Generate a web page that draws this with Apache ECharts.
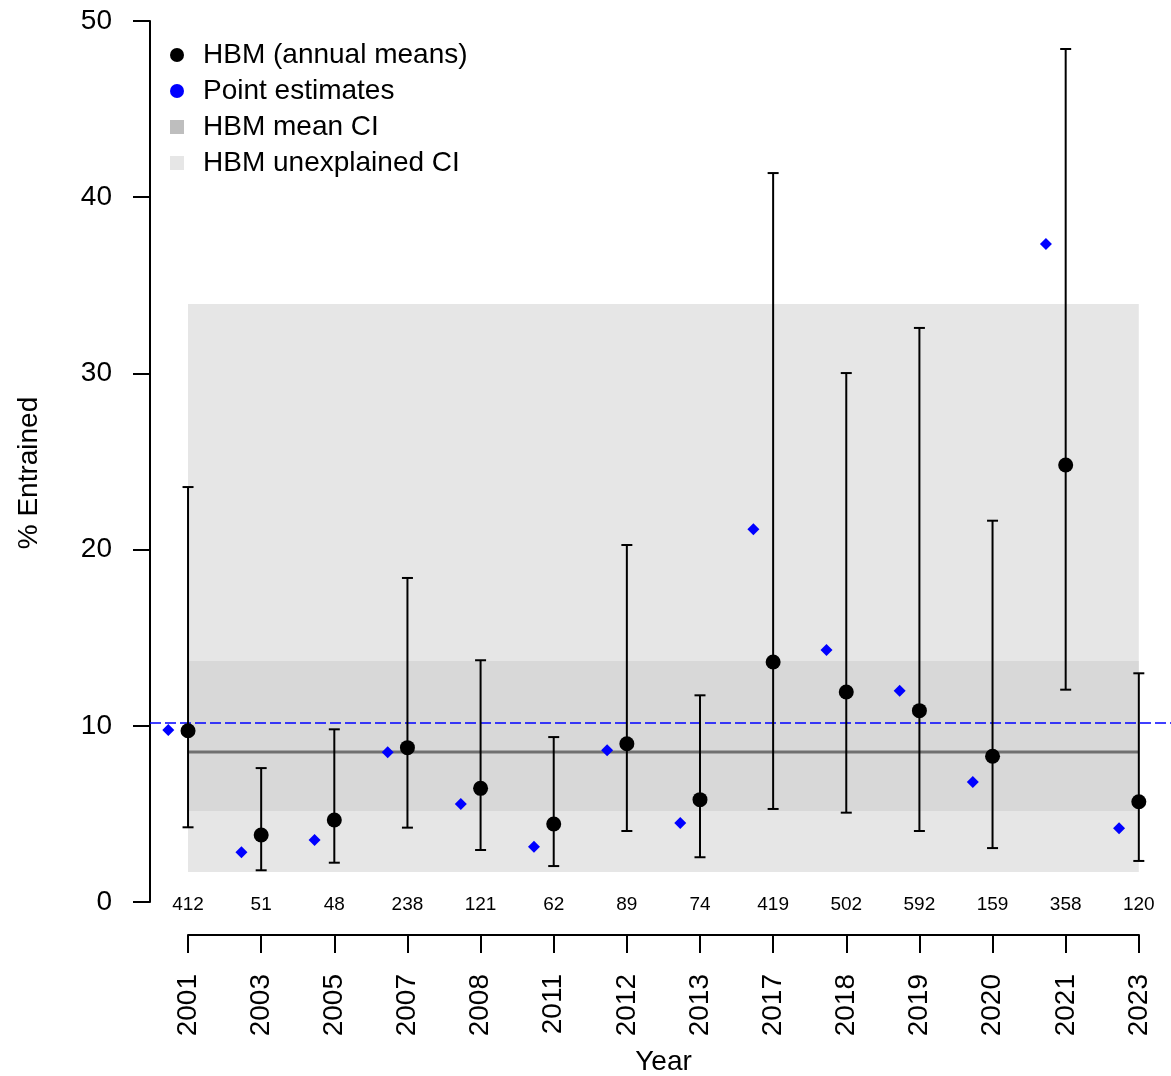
<!DOCTYPE html>
<html>
<head>
<meta charset="utf-8">
<script src="https://cdn.jsdelivr.net/npm/echarts@6/dist/echarts.min.js"></script>
<style>
  html, body { margin: 0; padding: 0; background: #fff; }
  #chart { width: 1171px; height: 1076px; }
</style>
</head>
<body>
<div id="chart"></div>
<script>
const years = ['2001', '2003', '2005', '2007', '2008', '2011', '2012', '2013', '2017', '2018', '2019', '2020', '2021', '2023'];
const sampleSizes = [412, 51, 48, 238, 121, 62, 89, 74, 419, 502, 592, 159, 358, 120];
const hbmMeans = [9.72, 3.80, 4.65, 8.76, 6.45, 4.43, 8.98, 5.81, 13.62, 11.92, 10.86, 8.27, 24.80, 5.69];
const hbmLower = [4.24, 1.80, 2.23, 4.22, 2.95, 2.04, 4.03, 2.54, 5.28, 5.07, 4.03, 3.06, 12.05, 2.33];
const hbmUpper = [23.55, 7.60, 9.80, 18.39, 13.72, 9.36, 20.26, 11.73, 41.37, 30.02, 32.58, 21.64, 48.41, 12.98];
const pointEstimates = [9.76, 2.82, 3.52, 8.50, 5.56, 3.14, 8.61, 4.48, 21.15, 14.30, 11.99, 6.81, 37.34, 4.18];
const overallMean = 8.51;
const meanCI = [5.16, 13.68];
const unexplainedCI = [1.70, 33.94];
const pooledEstimate = 10.15;

const FONT = 'Liberation Sans, Arial, sans-serif';
const first = 1, last = years.length;
const pos = years.map((y, i) => i + 1);
const shift = -0.27; // point estimates drawn just left of each year

const chart = echarts.init(document.getElementById('chart'), null, { renderer: 'canvas' });

// filled band between two y values, across the year range
const bandItem = (params, api) => {
  const p1 = api.coord([api.value(0), api.value(3)]);
  const p2 = api.coord([api.value(1), api.value(2)]);
  return {
    type: 'rect',
    shape: { x: p1[0], y: p1[1], width: p2[0] - p1[0], height: p2[1] - p1[1] },
    style: { fill: api.visual('color') }
  };
};

const option = {
  animation: false,
  backgroundColor: '#fff',
  textStyle: { fontFamily: FONT, color: '#000' },
  grid: [
    { left: 150, right: 0, top: 21, bottom: 174, outerBoundsMode: 'none' },
    { left: 188, right: 32, top: 900, height: 35, outerBoundsMode: 'none' }
  ],
  xAxis: [
    { gridIndex: 0, type: 'value', min: 0.48, max: 14.44, show: false },
    {
      gridIndex: 1, type: 'value', min: first, max: last, interval: 1,
      name: 'Year', nameLocation: 'middle', nameGap: 113,
      nameTextStyle: { fontSize: 28, color: '#000', fontFamily: FONT },
      axisLine: { show: true, lineStyle: { color: '#000', width: 2 } },
      axisTick: { show: true, length: 18, lineStyle: { color: '#000', width: 2 } },
      axisLabel: {
        rotate: 90, margin: 39, fontSize: 28, color: '#000', fontFamily: FONT,
        formatter: v => years[Math.round(v) - 1] || ''
      },
      splitLine: { show: false }
    }
  ],
  yAxis: [
    {
      gridIndex: 0, type: 'value', min: 0, max: 50, interval: 10,
      name: '% Entrained', nameLocation: 'middle', nameGap: 107,
      nameTextStyle: { fontSize: 28, color: '#000', fontFamily: FONT, padding: [0, 23, 0, 0] },
      axisLine: { show: true, lineStyle: { color: '#000', width: 2 } },
      axisTick: { show: true, length: 17, lineStyle: { color: '#000', width: 2 } },
      axisLabel: { margin: 38, fontSize: 28, color: '#000', fontFamily: FONT },
      splitLine: { show: false }
    },
    { gridIndex: 1, type: 'value', show: false }
  ],
  legend: {
    orient: 'vertical', left: 170, top: 37, padding: 0, itemGap: 0,
    itemWidth: 14, itemHeight: 14, selectedMode: false,
    textStyle: { fontSize: 28, color: '#000', fontFamily: FONT, lineHeight: 36, padding: [0, 0, 0, 14] },
    data: [
      { name: 'HBM (annual means)', icon: 'circle', itemStyle: { color: '#000', opacity: 1 } },
      { name: 'Point estimates', icon: 'circle', itemStyle: { color: '#0000FF', opacity: 1 } },
      { name: 'HBM mean CI', icon: 'rect', itemStyle: { color: '#BEBEBE', opacity: 1 } },
      { name: 'HBM unexplained CI', icon: 'rect', itemStyle: { color: '#E6E6E6', opacity: 1 } }
    ]
  },
  series: [
    {
      name: 'pooled', type: 'line', data: [], z: 1, silent: true,
      markLine: {
        symbol: 'none', silent: true, label: { show: false },
        lineStyle: { color: '#0000FF', type: [11, 4], width: 1.5, opacity: 1 },
        data: [{ yAxis: pooledEstimate }]
      }
    },
    {
      name: 'HBM unexplained CI', type: 'custom', z: 2, silent: true,
      itemStyle: { color: 'rgba(205,205,205,0.5)' },
      renderItem: bandItem,
      data: [[first, last, unexplainedCI[0], unexplainedCI[1]]]
    },
    {
      name: 'HBM mean CI', type: 'custom', z: 3, silent: true,
      itemStyle: { color: 'rgba(190,190,190,0.35)' },
      renderItem: bandItem,
      data: [[first, last, meanCI[0], meanCI[1]]]
    },
    {
      name: 'overall mean', type: 'line', z: 4, silent: true, symbol: 'none',
      lineStyle: { color: '#707070', width: 3 },
      data: [[first, overallMean], [last, overallMean]]
    },
    {
      name: 'HBM CI', type: 'custom', z: 5, silent: true,
      renderItem: (params, api) => {
        const x = api.value(0);
        const lo = api.coord([x, api.value(1)]);
        const hi = api.coord([x, api.value(2)]);
        const w = 5.5;
        const st = { stroke: '#000', lineWidth: 2 };
        return {
          type: 'group',
          children: [
            { type: 'line', shape: { x1: lo[0], y1: lo[1], x2: hi[0], y2: hi[1] }, style: st },
            { type: 'line', shape: { x1: lo[0] - w, y1: lo[1], x2: lo[0] + w, y2: lo[1] }, style: st },
            { type: 'line', shape: { x1: hi[0] - w, y1: hi[1], x2: hi[0] + w, y2: hi[1] }, style: st }
          ]
        };
      },
      data: pos.map((p, i) => [p, hbmLower[i], hbmUpper[i]])
    },
    {
      name: 'Point estimates', type: 'scatter', z: 6, symbol: 'diamond', symbolSize: 12,
      itemStyle: { color: '#0000FF', opacity: 1 },
      data: pos.map((p, i) => [p + shift, pointEstimates[i]])
    },
    {
      name: 'HBM (annual means)', type: 'scatter', z: 7, symbol: 'circle', symbolSize: 15,
      itemStyle: { color: '#000', opacity: 1 },
      data: pos.map((p, i) => [p, hbmMeans[i]])
    },
    {
      name: 'sample size', type: 'custom', z: 8, silent: true,
      renderItem: (params, api) => {
        const c = api.coord([api.value(0), api.value(1)]);
        return {
          type: 'text', x: c[0], y: c[1] + 2.5,
          style: {
            text: String(sampleSizes[params.dataIndex]), fill: '#000',
            font: '19px ' + FONT, align: 'center', verticalAlign: 'middle'
          }
        };
      },
      data: pos.map(p => [p, 0])
    }
  ]
};

chart.setOption(option);
</script>
</body>
</html>
